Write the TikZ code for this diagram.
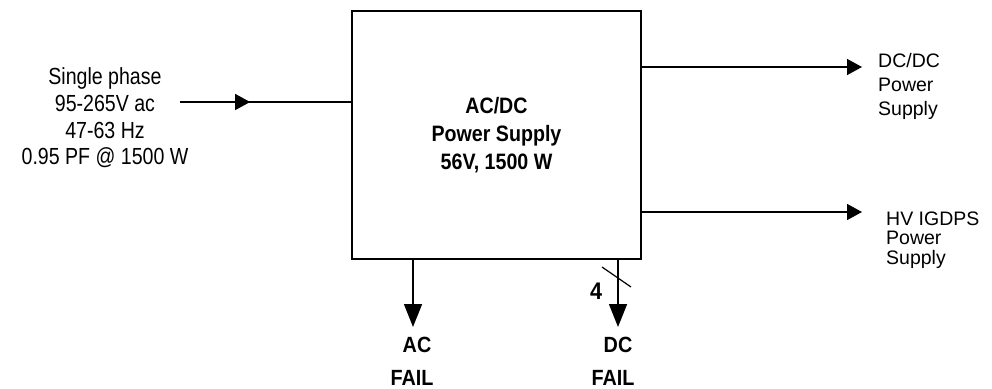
\documentclass[tikz,border=0pt]{standalone}
\usepackage{fontspec}
\setmainfont{Liberation Sans}
\newfontfamily\leftfont{Liberation Sans}[FakeStretch=0.84]
\newfontfamily\boxfont{Liberation Sans}[FakeStretch=0.88]
\newfontfamily\failfont{Liberation Sans}[FakeStretch=0.9]
\usetikzlibrary{arrows.meta,decorations.markings}
\begin{document}
\begin{tikzpicture}[x=1pt,y=-1pt,
  txt/.style={inner sep=0pt},
  arr/.style={line width=1.5pt, -{Triangle[length=15pt,width=16pt]}},
  darr/.style={line width=1.5pt, -{Triangle[length=23pt,width=18pt]}},
  midarr/.style={line width=1.5pt, decoration={markings,
      mark=at position 0.41 with {\arrow{Triangle[length=15pt,width=16pt]}}},
      postaction={decorate}},
  faillbl/.style={txt, align=center, font=\failfont\fontsize{22}{33}\selectfont\bfseries}
]
\useasboundingbox (0,0) rectangle (992,388);
\node[draw, line width=2pt, minimum width=289pt, minimum height=248pt,
      inner sep=0pt, align=center, font=\boxfont\fontsize{22.3}{28}\selectfont\bfseries]
      (box) at (496.5,135) {AC/DC\\Power Supply\\ 56V, 1500 W};

% input
\node[txt, align=center, font=\leftfont\fontsize{23.3}{26.7}\selectfont] (inlbl) at (105,118)
  {Single phase\\95-265V ac\\47-63 Hz\\0.95 PF @ 1500 W};
\coordinate (inL) at (180,102);
\draw[midarr] (inL) -- (box.west |- inL);

% outputs
\coordinate (o1) at (862,67);
\coordinate (o2) at (862,212);
\draw[arr] (box.east |- o1) -- (o1);
\draw[arr] (box.east |- o2) -- (o2);
\node[txt, anchor=west, align=left, font=\fontsize{19.5}{24}\selectfont] (dcdc) at (878,86) {DC/DC\\Power\\Supply};
\node[txt, anchor=west, align=left, font=\fontsize{19.5}{19.5}\selectfont] (hv) at (886,240) {HV IGDPS\\Power\\Supply};

% fail outputs
\coordinate (a1) at (413,327);
\coordinate (d1) at (618,327);
\draw[darr] (box.south -| a1) -- (a1);
\draw[darr] (box.south -| d1) -- (d1);
\coordinate (s1) at (602,267);
\coordinate (s2) at (631,287);
\draw[line width=1.2pt] (s1) -- (s2);
\node[txt, font=\failfont\fontsize{24}{24}\selectfont\bfseries] (four) at (596,291) {4};
\node[faillbl] (acf) at (412,361) {\hspace*{10pt}AC\\FAIL};
\node[faillbl] (dcf) at (613,361) {\hspace*{10pt}DC\\FAIL};
\end{tikzpicture}
\end{document}
